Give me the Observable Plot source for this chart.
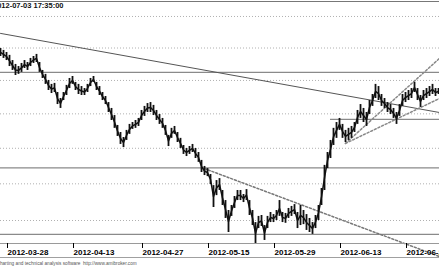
<!DOCTYPE html>
<html><head><meta charset="utf-8">
<script src="https://cdn.jsdelivr.net/npm/d3@7"></script>
<script src="https://cdn.jsdelivr.net/npm/@observablehq/plot@0.6"></script>
<style>
body{margin:0;background:#fff;}
#wrap{position:relative;width:439px;height:268px;overflow:hidden;font-family:"Liberation Sans",Arial,sans-serif;}
#band{position:absolute;left:0;top:257px;width:439px;height:0;border-top:1px solid #a0a0a0;}
</style></head><body><div id="wrap"><div id="band"></div></div>
<script>
const titleText = "2012-07-03 17:35:00";
const captionText = "Charting and technical analysis software  http://www.amibroker.com";
const highs = [69.97,69.85,69.72,69.54,69.22,68.98,68.85,69.04,69.22,69.10,69.35,69.47,69.60,69.10,68.61,68.37,68.00,67.76,67.82,67.27,
66.91,67.27,67.70,68.12,68.24,67.88,67.76,67.63,67.51,67.76,68.12,68.24,67.88,67.63,67.27,67.03,66.67,66.32,65.90,65.32,
64.91,64.62,65.03,65.38,65.49,65.61,65.73,66.20,66.44,66.61,66.67,66.50,66.20,65.96,65.73,65.32,64.74,65.15,65.26,64.91,
64.57,64.16,63.99,64.10,64.22,63.99,63.76,63.31,62.97,62.85,62.52,61.90,62.18,62.29,61.63,61.08,60.54,60.81,61.30,61.63,
61.63,61.41,61.68,61.08,60.54,59.89,60.22,60.27,59.73,60.22,60.43,60.32,60.54,61.08,60.43,60.38,60.65,60.76,60.86,60.43,
60.81,60.54,60.32,60.11,59.89,60.27,60.81,61.74,63.03,63.76,64.45,65.15,65.49,65.73,65.38,65.03,65.15,65.26,65.49,66.20,
66.55,66.32,66.08,66.79,67.15,67.76,67.63,67.15,66.91,66.67,66.55,66.32,66.08,66.55,67.15,67.27,67.39,67.51,67.88,67.51,
67.09,67.39,67.51,67.63,67.76,67.51,67.51];
const lows = [69.47,69.35,69.22,68.85,68.61,68.30,68.37,68.49,68.73,68.61,68.85,69.04,69.10,68.49,68.12,67.76,67.39,67.21,67.27,66.55,
66.32,66.79,67.09,67.51,67.76,67.39,67.15,67.09,67.09,67.27,67.63,67.88,67.39,67.09,66.79,66.55,66.08,65.61,65.15,64.68,
64.22,64.04,64.45,64.80,65.09,65.15,65.26,65.61,65.85,66.08,66.08,65.90,65.61,65.38,65.15,64.74,64.10,64.57,64.80,64.33,
63.99,63.65,63.53,63.65,63.76,63.42,63.20,62.63,62.46,62.40,61.96,60.70,61.35,61.63,60.81,60.11,59.36,60.22,60.65,61.08,
61.08,60.97,61.08,60.27,59.73,58.73,59.57,59.68,58.94,59.57,59.89,59.89,60.00,60.22,59.89,59.85,60.11,60.22,60.32,59.57,
59.73,59.78,59.47,59.36,59.26,59.57,60.00,60.81,61.63,62.85,63.42,64.16,64.57,65.03,64.57,64.33,64.45,64.57,64.91,65.38,
65.73,65.49,65.26,65.96,66.44,66.91,66.79,66.44,66.32,66.08,65.96,65.73,65.38,65.85,66.44,66.67,66.79,66.91,67.27,66.79,
66.38,66.79,66.91,67.03,67.15,67.03,67.15];
const tickBars = [2, 24, 47, 69, 91, 113, 135];
const tickLabels = ["2012-03-28","2012-04-13","2012-04-27","2012-05-15","2012-05-29","2012-06-13","2012-06-27"];
const gridLevels = [60, 62, 64, 66, 68, 70, 72];
const supportLevels = [68.49, 62.89, 59.26];
const shortLevel = [{start: 110, value: 65.67}];
const trendSolid = [[0, 70.92], [146.3, 66.08]];
const trendDown = [[68, 62.85], [146.3, 58.1]];
const trendUpSteep = [[115, 64.28], [146.3, 69.35]];
const trendUpShallow = [[115, 64.28], [146.3, 66.91]];

const xMax = 146.33;
const yMin = 58.78, yMax = 72.97;
const bars = highs.map((h, i) => ({i, high: h, low: lows[i]}));
const labelMap = new Map(tickBars.map((b, k) => [b, tickLabels[k]]));

const chart = Plot.plot({
  width: 439, height: 268,
  marginTop: 1, marginBottom: 25, marginLeft: 0, marginRight: 0,
  style: {fontFamily: '"Liberation Sans", Arial, sans-serif', background: "transparent", overflow: "visible"},
  x: {domain: [0, xMax], axis: null},
  y: {type: "log", domain: [yMin, yMax], axis: null},
  marks: [
    Plot.ruleY(gridLevels, {stroke: "#b0b0b0", strokeDasharray: "1,2"}),
    Plot.ruleY(supportLevels, {stroke: "#8a8a8a", strokeWidth: 1.3}),
    Plot.ruleY(shortLevel, {x1: "start", x2: () => xMax, y: "value", stroke: "#8a8a8a", strokeWidth: 1.3}),
    Plot.line(trendSolid, {x: d => d[0], y: d => d[1], stroke: "#555", strokeWidth: 1}),
    Plot.line(trendDown, {x: d => d[0], y: d => d[1], stroke: "#777", strokeDasharray: "2,2"}),
    Plot.line(trendUpSteep, {x: d => d[0], y: d => d[1], stroke: "#888", strokeDasharray: "2,2"}),
    Plot.line(trendUpShallow, {x: d => d[0], y: d => d[1], stroke: "#888", strokeDasharray: "2,2"}),
    Plot.ruleX(bars, {x: "i", y1: "low", y2: "high", stroke: "#111", strokeWidth: 1.8}),
    Plot.line(bars, {x: "i", y: d => (d.high + d.low) / 2, stroke: "#111", strokeWidth: 1.5}),
    Plot.ruleY([yMax], {stroke: "#777"}),
    Plot.ruleY([yMin], {stroke: "#9a9a9a"}),
    Plot.axisX(tickBars, {anchor: "bottom", label: null, tickFormat: d => labelMap.get(d), tickSize: 5, tickPadding: 1,
      textAnchor: "start", dx: 1, fontSize: 8, fontWeight: "bold", fill: "#000", stroke: "#000"}),
    Plot.text([titleText], {frameAnchor: "top-left", dx: 63, dy: 1, textAnchor: "end", lineAnchor: "top", fontSize: 7.5, fontWeight: "bold", fill: "#111"}),
    Plot.text([captionText], {frameAnchor: "bottom-left", dx: -4, dy: 20, textAnchor: "start", lineAnchor: "middle", fontSize: 4.7, fill: "#555"})
  ]
});
document.getElementById("wrap").appendChild(chart);
</script>
</body></html>
